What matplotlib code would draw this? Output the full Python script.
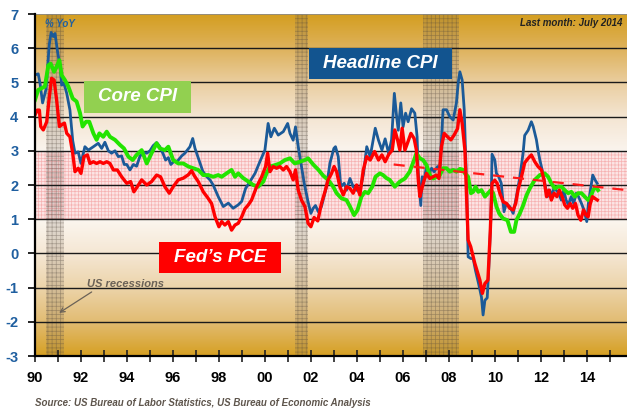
import numpy as np
import matplotlib
matplotlib.use("Agg")
import matplotlib.pyplot as plt
from matplotlib.patches import Rectangle

plt.rcParams['font.family'] = ['Liberation Sans', 'DejaVu Sans']
plt.rcParams['hatch.linewidth'] = 0.5
plt.rcParams['axes.unicode_minus'] = False

# ---------------- data ----------------
cpi_t = [1990.0, 1990.14, 1990.22, 1990.33, 1990.48, 1990.62, 1990.7, 1990.8, 1990.87, 1990.97,
         1991.09, 1991.16, 1991.26, 1991.38, 1991.52, 1991.64, 1991.74, 1991.88, 1992.0, 1992.17,
         1992.32, 1992.54, 1992.75, 1992.9, 1993.04, 1993.19, 1993.33, 1993.48, 1993.62, 1993.77,
         1993.88, 1993.99, 1994.13, 1994.28, 1994.42, 1994.57, 1994.72, 1994.86, 1995.0, 1995.14,
         1995.29, 1995.43, 1995.58, 1995.68, 1995.8, 1995.91, 1996.06, 1996.2, 1996.38, 1996.52,
         1996.74, 1996.86, 1996.96, 1997.12, 1997.3, 1997.46, 1997.61, 1997.75, 1997.97, 1998.19,
         1998.41, 1998.62, 1998.84, 1998.99, 1999.16, 1999.35, 1999.57, 1999.78, 2000.0, 2000.14,
         2000.26, 2000.41, 2000.58, 2000.8, 2000.99, 2001.09, 2001.23, 2001.33, 2001.45, 2001.59,
         2001.71, 2001.86, 2002.0, 2002.1, 2002.2, 2002.32, 2002.46, 2002.68, 2002.83, 2003.0,
         2003.07, 2003.19, 2003.3, 2003.45, 2003.55, 2003.7, 2003.84, 2003.99, 2004.13, 2004.29,
         2004.43, 2004.58, 2004.8, 2004.94, 2005.09, 2005.23, 2005.38, 2005.51, 2005.63, 2005.73,
         2005.8, 2005.91, 2006.01, 2006.12, 2006.23, 2006.38, 2006.52, 2006.62, 2006.67, 2006.78,
         2006.84, 2006.93, 2007.03, 2007.14, 2007.25, 2007.36, 2007.51, 2007.61, 2007.75, 2007.9,
         2008.04, 2008.19, 2008.33, 2008.41, 2008.48, 2008.58, 2008.67, 2008.77, 2008.84, 2008.96,
         2009.06, 2009.16, 2009.3, 2009.42, 2009.49, 2009.57, 2009.67, 2009.74, 2009.83, 2009.88,
         2010.0, 2010.07, 2010.17, 2010.28, 2010.4, 2010.5, 2010.65, 2010.8, 2010.94, 2011.09,
         2011.23, 2011.3, 2011.45, 2011.59, 2011.67, 2011.81, 2011.88, 2011.96, 2012.06, 2012.17,
         2012.29, 2012.39, 2012.49, 2012.58, 2012.67, 2012.78, 2012.89, 2013.0, 2013.1, 2013.2,
         2013.32, 2013.43, 2013.54, 2013.64, 2013.77, 2013.88, 2014.0, 2014.07, 2014.16, 2014.26,
         2014.36, 2014.45]
cpi_v = [5.22, 5.25, 4.97, 4.4, 4.8, 6.1, 6.46, 6.34, 6.43, 5.95,
         5.46, 4.92, 4.97, 4.68, 4.19, 3.3, 2.93, 2.97, 2.63, 3.12,
         3.02, 3.12, 3.22, 3.07, 3.25, 3.0, 2.93, 3.0, 2.83, 2.85,
         2.6, 2.6, 2.44, 2.6, 2.55, 2.85, 2.95, 2.93, 3.0, 3.15,
         3.24, 3.12, 2.9, 2.73, 2.8, 2.6, 2.7, 2.7, 2.85, 2.93,
         3.12, 3.36, 3.07, 2.75, 2.4, 2.25, 2.15, 2.0, 1.66, 1.37,
         1.47, 1.32, 1.42, 1.52, 1.9, 2.1, 2.34, 2.68, 3.02, 3.8,
         3.41, 3.66, 3.46, 3.56, 3.8, 3.51, 3.31, 3.7, 3.12, 2.54,
         2.05, 1.56, 1.17, 1.32, 1.4, 1.22, 1.37, 1.95, 2.64, 3.07,
         3.12, 2.83, 1.95, 2.05, 1.85, 2.19, 1.95, 1.85, 1.8, 2.34,
         3.12, 2.83, 3.66, 3.31, 3.02, 3.35, 2.93, 3.32, 4.68, 4.0,
         3.6, 4.4, 3.7, 4.1, 3.85, 4.23, 4.1, 3.41, 2.34, 1.4,
         2.24, 2.15, 2.54, 2.34, 2.49, 2.39, 2.54, 2.44, 4.2, 4.2,
         4.0, 3.9, 4.4, 5.0, 5.31, 5.07, 4.2, 2.05, -0.1, -0.15,
         -0.15, -0.5, -0.9, -1.28, -1.8, -1.37, -1.3, -0.4, 1.06, 2.9,
         2.73, 2.34, 2.24, 2.05, 1.22, 1.46, 1.37, 1.17, 1.66, 2.24,
         2.93, 3.45, 3.6, 3.85, 3.71, 3.32, 3.02, 2.73, 2.44, 2.05,
         1.66, 1.85, 1.66, 1.95, 1.85, 1.76, 1.56, 1.85, 1.56, 1.42,
         1.66, 1.46, 1.76, 1.66, 1.46, 1.27, 0.93, 1.46, 1.85, 2.29,
         2.15, 2.05]

core_t = [1990.0, 1990.14, 1990.29, 1990.43, 1990.58, 1990.68, 1990.83, 1990.94, 1991.06, 1991.16,
          1991.3, 1991.45, 1991.64, 1991.81, 1991.96, 1992.07, 1992.22, 1992.36, 1992.54, 1992.68,
          1992.8, 1992.97, 1993.12, 1993.26, 1993.48, 1993.7, 1993.87, 1994.06, 1994.25, 1994.42,
          1994.64, 1994.86, 1995.07, 1995.29, 1995.43, 1995.65, 1995.8, 1996.01, 1996.23, 1996.45,
          1996.67, 1996.88, 1997.1, 1997.32, 1997.54, 1997.75, 1997.97, 1998.12, 1998.33, 1998.55,
          1998.7, 1998.84, 1999.06, 1999.28, 1999.49, 1999.71, 1999.93, 2000.07, 2000.22, 2000.43,
          2000.65, 2000.87, 2001.09, 2001.3, 2001.52, 2001.74, 2001.88, 2002.1, 2002.32, 2002.54,
          2002.75, 2002.97, 2003.12, 2003.33, 2003.55, 2003.7, 2003.88, 2004.03, 2004.2, 2004.35,
          2004.49, 2004.67, 2004.81, 2005.0, 2005.14, 2005.29, 2005.43, 2005.65, 2005.87, 2006.09,
          2006.3, 2006.49, 2006.59, 2006.74, 2006.88, 2007.03, 2007.17, 2007.32, 2007.46, 2007.61,
          2007.75, 2007.9, 2008.04, 2008.19, 2008.33, 2008.48, 2008.6, 2008.7, 2008.84, 2008.96,
          2009.06, 2009.16, 2009.28, 2009.42, 2009.57, 2009.71, 2009.83, 2009.93, 2010.07, 2010.19,
          2010.36, 2010.55, 2010.7, 2010.84, 2010.94, 2011.09, 2011.23, 2011.38, 2011.52, 2011.74,
          2011.96, 2012.17, 2012.32, 2012.46, 2012.61, 2012.75, 2012.9, 2013.04, 2013.19, 2013.33,
          2013.48, 2013.62, 2013.77, 2013.91, 2014.06, 2014.17, 2014.28, 2014.38, 2014.49]
core_v = [4.49, 4.78, 4.83, 4.88, 5.5, 5.55, 5.31, 5.46, 5.65, 5.21,
          5.07, 4.88, 4.53, 4.44, 4.1, 3.71, 3.85, 3.85, 3.51, 3.32,
          3.51, 3.41, 3.56, 3.41, 3.32, 3.17, 3.07, 2.83, 2.73, 2.88,
          3.02, 2.63, 2.93, 3.22, 3.07, 3.02, 3.12, 2.73, 2.63, 2.63,
          2.54, 2.49, 2.44, 2.29, 2.29, 2.24, 2.29, 2.24, 2.34, 2.44,
          2.24, 2.34, 2.2, 2.1, 2.0, 1.95, 2.1, 2.34, 2.54, 2.58,
          2.63, 2.73, 2.78, 2.63, 2.68, 2.73, 2.78, 2.6, 2.45, 2.27,
          2.15, 1.95, 1.76, 1.61, 1.56, 1.37, 1.12, 1.27, 1.66, 1.8,
          1.76, 1.95, 2.24, 2.34, 2.29, 2.2, 2.15, 1.95, 2.1, 2.19,
          2.39, 2.73, 2.93, 2.78, 2.73, 2.58, 2.29, 2.19, 2.24, 2.29,
          2.49, 2.49, 2.39, 2.44, 2.39, 2.47, 2.45, 2.34, 2.24, 1.76,
          1.8, 1.95, 1.8, 1.85, 1.66, 1.76, 1.85, 1.76, 1.37, 1.17,
          1.02, 0.97, 0.63, 0.63, 0.97, 1.17, 1.4, 1.7, 1.9, 2.15,
          2.29, 2.34, 2.24, 2.05, 1.9, 1.95, 1.95, 1.85, 1.76, 1.8,
          1.66, 1.76, 1.76, 1.66, 1.56, 1.66, 1.85, 1.95, 1.85]

pce_t = [1990.0, 1990.1, 1990.19, 1990.25, 1990.36, 1990.51, 1990.61, 1990.72, 1990.83, 1990.94,
         1991.06, 1991.16, 1991.28, 1991.38, 1991.52, 1991.64, 1991.74, 1991.88, 1992.0, 1992.13,
         1992.28, 1992.39, 1992.54, 1992.68, 1992.83, 1992.97, 1993.12, 1993.26, 1993.41, 1993.58,
         1993.77, 1993.99, 1994.16, 1994.3, 1994.45, 1994.64, 1994.86, 1995.07, 1995.29, 1995.46,
         1995.65, 1995.84, 1996.01, 1996.23, 1996.45, 1996.67, 1996.81, 1996.93, 1997.1, 1997.32,
         1997.51, 1997.68, 1997.83, 1998.0, 1998.12, 1998.26, 1998.41, 1998.55, 1998.7, 1998.84,
         1998.99, 1999.13, 1999.28, 1999.42, 1999.64, 1999.86, 2000.03, 2000.12, 2000.22, 2000.36,
         2000.51, 2000.65, 2000.8, 2000.94, 2001.09, 2001.23, 2001.33, 2001.45, 2001.59, 2001.74,
         2001.88, 2002.0, 2002.14, 2002.3, 2002.46, 2002.61, 2002.75, 2002.9, 2003.01, 2003.12,
         2003.26, 2003.41, 2003.55, 2003.7, 2003.84, 2003.99, 2004.13, 2004.28, 2004.43, 2004.58,
         2004.77, 2004.94, 2005.09, 2005.23, 2005.39, 2005.54, 2005.65, 2005.77, 2005.87, 2005.97,
         2006.09, 2006.2, 2006.35, 2006.49, 2006.59, 2006.67, 2006.74, 2006.81, 2006.93, 2007.03,
         2007.17, 2007.32, 2007.46, 2007.57, 2007.68, 2007.8, 2007.94, 2008.09, 2008.23, 2008.38,
         2008.48, 2008.58, 2008.7, 2008.84, 2008.95, 2009.13, 2009.35, 2009.46, 2009.57, 2009.7,
         2009.8, 2009.88, 2010.0, 2010.1, 2010.22, 2010.36, 2010.51, 2010.65, 2010.8, 2010.91,
         2011.01, 2011.16, 2011.3, 2011.45, 2011.59, 2011.74, 2011.88, 2012.03, 2012.14, 2012.25,
         2012.35, 2012.46, 2012.58, 2012.7, 2012.81, 2012.93, 2013.04, 2013.16, 2013.28, 2013.39,
         2013.51, 2013.62, 2013.74, 2013.86, 2013.97, 2014.06, 2014.14, 2014.25, 2014.35, 2014.46]
pce_v = [4.05, 4.19, 4.19, 3.71, 3.61, 3.85, 4.49, 5.12, 5.07, 4.49,
         3.71, 3.76, 3.81, 3.51, 3.41, 2.93, 2.39, 2.49, 2.34, 2.83,
         2.88, 2.63, 2.68, 2.63, 2.68, 2.63, 2.68, 2.63, 2.44, 2.44,
         2.24, 2.05, 2.1, 1.8, 1.95, 2.15, 2.0, 2.1, 2.29, 2.24,
         1.95, 1.76, 1.95, 2.15, 2.2, 2.3, 2.42, 2.27, 2.1, 1.8,
         1.63, 1.46, 1.07, 0.78, 0.93, 0.83, 0.93, 0.68, 0.83, 0.88,
         1.07, 1.3, 1.42, 1.56, 1.95, 2.24, 2.54, 2.93, 2.39, 2.54,
         2.49, 2.54, 2.44, 2.54, 2.39, 2.15, 2.44, 1.85, 1.56, 1.37,
         0.88, 0.78, 1.05, 0.95, 1.46, 1.8, 2.15, 2.34, 2.54, 2.39,
         1.95, 1.71, 1.95, 1.9, 1.76, 2.0, 1.71, 2.44, 2.83, 2.73,
         2.98, 2.73, 2.88, 2.68, 2.9, 3.02, 3.61, 3.32, 3.02, 3.66,
         3.02, 3.22, 3.51, 3.36, 3.02, 2.15, 1.66, 1.85, 2.15, 2.34,
         2.19, 2.24, 2.29, 2.19, 3.12, 3.51, 3.41, 3.32, 3.46, 3.65,
         4.2, 3.8, 3.02, 0.39, 0.2, -0.29, -0.78, -1.17, -0.88, -0.78,
         0.6, 2.05, 2.14, 2.05, 1.76, 1.51, 1.46, 1.32, 1.27, 1.46,
         1.85, 2.24, 2.65, 2.78, 2.88, 2.68, 2.54, 2.44, 2.15, 1.66,
         1.85, 1.56, 1.76, 1.66, 1.85, 1.66, 1.42, 1.32, 1.46, 1.32,
         1.46, 1.12, 0.97, 1.27, 1.12, 1.07, 1.42, 1.66, 1.61, 1.56]

trend_t = [2005.6, 2015.75]
trend_v = [2.6, 1.85]

recessions = [(1990.47, 1991.26), (2001.3, 2001.87), (2006.88, 2008.45)]

x_ticks = list(range(1990, 2015, 2))
x_labels = ['90', '92', '94', '96', '98', '00', '02', '04', '06', '08', '10', '12', '14']
y_ticks = list(range(-3, 8))

# ---------------- figure ----------------
fig = plt.figure(figsize=(6.27, 4.11), dpi=100)
ax = fig.add_axes([35 / 627, 1 - 356 / 411, 1 - 35 / 627, (356 - 14) / 411])
xmin, xmax, ymin, ymax = 1990, 2015.75, -3, 7
ax.set_xlim(xmin, xmax)
ax.set_ylim(ymin, ymax)

# background gradient
stops_y = [7, 6, 5, 4, 3, 2, 1, 0, -1, -2, -3]
stops_c = [(212, 158, 32), (222, 178, 92), (234, 206, 160), (244, 229, 210), (250, 244, 238),
           (253, 250, 247), (251, 246, 239), (245, 231, 212), (236, 212, 170), (226, 188, 115),
           (214, 160, 35)]
yy = np.linspace(7, -3, 400)
sy = np.array(stops_y[::-1], dtype=float)
sc = np.array(stops_c[::-1], dtype=float) / 255
grad = np.stack([np.interp(yy, sy, sc[:, k]) for k in range(3)], axis=1)[:, None, :]
ax.imshow(grad, extent=[xmin, xmax, ymin, ymax], aspect='auto', zorder=0, interpolation='bilinear')

# pink target band
ax.add_patch(Rectangle((xmin, 1), xmax - xmin, 2, facecolor='#FCE4E4', edgecolor='#F6B2B2',
                       hatch='+++++', linewidth=0, zorder=1))

# recessions
for a, b in recessions:
    ax.add_patch(Rectangle((a, ymin), b - a, ymax - ymin, facecolor=(0.45, 0.4, 0.35, 0.2),
                           edgecolor=(0.3, 0.26, 0.22, 0.38), hatch='++++', linewidth=0, zorder=1.2))

# gridlines
for v in range(-2, 7):
    ax.axhline(v, color='#1a1a1a', lw=1.0, zorder=1.5)
ax.axhline(7, color='#8a8a8a', lw=1.2, zorder=1.5)

# series
ax.plot(cpi_t, cpi_v, color='#1B5A98', lw=2.0, zorder=3)
ax.plot(core_t, core_v, color='#22E400', lw=2.8, zorder=3.2)
ax.plot(pce_t, pce_v, color='#FF0000', lw=2.4, zorder=3.4)
ax.plot(trend_t, trend_v, color='#FF1A1A', lw=1.6, ls=(0, (5, 4)), zorder=3.5)

# spines / ticks
for s in ['top', 'right']:
    ax.spines[s].set_visible(False)
ax.spines['left'].set_linewidth(1.6)
ax.spines['bottom'].set_linewidth(1.6)
ax.spines['left'].set_zorder(5)
ax.spines['bottom'].set_zorder(5)
ax.set_xticks(x_ticks)
ax.set_xticklabels(x_labels)
ax.set_xticks(list(range(1990, 2016)), minor=True)
ax.set_yticks(y_ticks)
ax.tick_params(axis='x', which='both', direction='inout', length=8, width=1.2, color='#222222')
ax.tick_params(axis='x', which='major', pad=7, labelsize=10.5)
ax.tick_params(axis='y', direction='out', length=5, width=1.2, pad=7, labelsize=10.5,
               labelcolor='#1F5FA0')
for lab in ax.get_xticklabels():
    lab.set_fontweight('bold')
for lab in ax.get_yticklabels():
    lab.set_fontweight('bold')

# label boxes
def label_box(x0, x1, y0, y1, fc, text):
    ax.add_patch(Rectangle((x0, y0), x1 - x0, y1 - y0, facecolor=fc, edgecolor='none', zorder=6))
    ax.text((x0 + x1) / 2, (y0 + y1) / 2, text, color='white', fontsize=13.5, fontweight='bold',
            fontstyle='italic', ha='center', va='center', zorder=7)

label_box(2001.91, 2008.13, 5.10, 6.01, '#12548F', 'Headline CPI')
label_box(1992.13, 1996.78, 4.11, 5.04, '#92D050', 'Core CPI')
label_box(1995.39, 2000.70, -0.57, 0.33, '#FF0000', 'Fed\u2019s PCE')

ax.text(1990.45, 6.70, '% YoY', color='#1F5FA0', fontsize=7, fontweight='bold', fontstyle='italic',
        ha='left', va='center', zorder=7)
ax.text(2015.55, 6.74, 'Last month: July 2014', color='#222222', fontsize=7, fontweight='bold',
        fontstyle='italic', ha='right', va='center', zorder=7)
ax.annotate('US recessions', xy=(1991.05, -1.74), xytext=(1992.25, -0.9),
            color='#6B6257', fontsize=8, fontstyle='italic', fontweight='bold', ha='left', va='center',
            arrowprops=dict(arrowstyle='->', color='#6B6257', lw=0.9,
                            shrinkA=0, shrinkB=0, relpos=(0.12, 0.0)), zorder=7)

fig.text(35 / 627, 1 - 403 / 411, 'Source: US Bureau of Labor Statistics, US Bureau of Economic Analysis',
         color='#5E554C', fontsize=7, fontweight='bold', fontstyle='italic', ha='left', va='center')

fig.savefig('out.png', dpi=100)
